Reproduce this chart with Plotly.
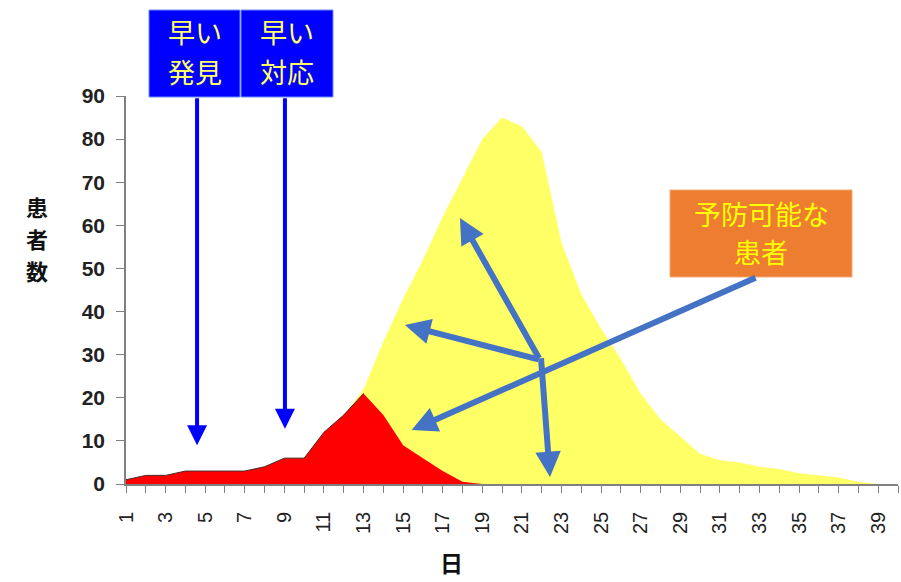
import plotly.graph_objects as go

# 日ごとの患者数
days = list(range(1, 41))
# 早い発見・早い対応をした場合
early_response = [1, 2, 2, 3, 3, 3, 3, 4, 6, 6, 12, 16, 21, 16, 9, 6, 3, 0.5,
                  0, 0, 0, 0, 0, 0, 0, 0, 0, 0, 0, 0, 0, 0, 0, 0, 0, 0, 0, 0, 0, 0]
# 対応が遅れた場合
no_response = [1, 2, 2, 3, 3, 3, 3, 4, 6, 6, 12, 16, 22, 33, 43, 52, 62, 71,
               80, 85, 83, 77, 56, 44, 36, 29, 21, 15, 11, 7, 5.5, 5, 4, 3.5,
               2.5, 2, 1.5, 0.5, 0, 0]
x_tick_labels = [str(d) if d % 2 == 1 else "" for d in days]
y_ticks = list(range(0, 100, 10))
peak_day = early_response.index(max(early_response)) + 1

W, H = 901, 582
ML, MR, MT, MB = 126, 3, 96, 98
PW, PH = W - ML - MR, H - MT - MB


def paper(px, py):
    """Pixel position in the page -> paper coordinates."""
    return (px - ML) / PW, (H - MB - py) / PH


JP = "Noto Sans CJK JP"
YELLOW_FILL = "#FFFF66"
RED_FILL = "#FF0000"
BLUE = "#0000FF"
STEEL = "#4472C4"
ORANGE = "#ED7D31"

fig = go.Figure()
fig.add_trace(go.Scatter(
    x=days, y=no_response, mode="lines", fill="tozeroy",
    fillcolor=YELLOW_FILL, line=dict(width=0, color=YELLOW_FILL),
    hoverinfo="skip", showlegend=False))
fig.add_trace(go.Scatter(
    x=days, y=early_response, mode="lines", fill="tozeroy",
    fillcolor=RED_FILL, line=dict(width=0, color=RED_FILL),
    hoverinfo="skip", showlegend=False))
# thin outline along the rising edge of the red area
fig.add_trace(go.Scatter(
    x=days[:peak_day], y=early_response[:peak_day], mode="lines",
    line=dict(width=1, color="#4a2a2a"), hoverinfo="skip", showlegend=False))

shapes = []
annotations = []


def label(text, cx, cy, size, color, weight="normal"):
    ax_, ay_ = paper(cx, cy)
    annotations.append(dict(text=text, x=ax_, y=ay_, xref="paper", yref="paper",
                            showarrow=False, xanchor="center", yanchor="middle",
                            font=dict(family=JP, size=size, color=color, weight=weight)))


# 青いラベル（早い発見・早い対応）
for (x0, x1), lines in [((149, 240), ("早い", "発見")), ((241, 333), ("早い", "対応"))]:
    px0, py0 = paper(x0, 97)
    px1, py1 = paper(x1, 10)
    shapes.append(dict(type="rect", xref="paper", yref="paper",
                       x0=px0, x1=px1, y0=py0, y1=py1,
                       fillcolor=BLUE, line=dict(color="#6f8cff", width=1)))
    cx = (x0 + x1) / 2
    for text, cy in zip(lines, (32, 71)):
        label(text, cx, cy, 27, "#FFFF66")

# オレンジのラベル（予防可能な患者）
ox0, oy0 = paper(670, 277)
ox1, oy1 = paper(852, 190)
shapes.append(dict(type="rect", xref="paper", yref="paper",
                   x0=ox0, x1=ox1, y0=oy0, y1=oy1,
                   fillcolor=ORANGE, line=dict(color="#f4a877", width=1)))
label("予防可能な", 761, 213, 27, "#FFFF00")
label("患者", 761, 251, 27, "#FFFF00")

# 矢印（データ座標）
blue_arrows = [((4.59, 89.8), (4.59, 9.0)), ((9.03, 89.8), (9.03, 12.8))]
for (tx, ty), (hx, hy) in blue_arrows:
    annotations.append(dict(text="", x=hx, y=hy, ax=tx, ay=ty,
                            xref="x", yref="y", axref="x", ayref="y",
                            showarrow=True, arrowhead=2, arrowsize=1.0,
                            arrowwidth=4, arrowcolor=BLUE, standoff=0))

steel_arrows = [
    ((21.91, 28.8), (17.87, 61.7)),
    ((21.91, 28.8), (15.09, 36.9)),
    ((32.88, 48.0), (15.43, 12.5)),
    ((21.96, 29.5), (22.42, 1.6)),
]
for (tx, ty), (hx, hy) in steel_arrows:
    annotations.append(dict(text="", x=hx, y=hy, ax=tx, ay=ty,
                            xref="x", yref="y", axref="x", ayref="y",
                            showarrow=True, arrowhead=2, arrowsize=0.85,
                            arrowwidth=6, arrowcolor=STEEL, standoff=0))

# 軸タイトル
for ch, cy in zip("患者数", (206, 238, 270)):
    label(ch, 37, cy, 22, "#111111", "bold")
label("日", 451, 562, 23, "#111111", "bold")

fig.update_layout(
    width=W, height=H,
    margin=dict(l=ML, r=MR, t=MT, b=MB, pad=0),
    paper_bgcolor="white", plot_bgcolor="white",
    shapes=shapes, annotations=annotations,
    showlegend=False,
)
fig.update_xaxes(
    range=[1, 40], tickmode="array", tickvals=days, ticktext=x_tick_labels,
    tickangle=-90, ticks="outside", ticklen=7, tickwidth=1, tickcolor="#808080",
    showline=True, linecolor="#808080", linewidth=1.5, showgrid=False, zeroline=False,
    tickfont=dict(family="Liberation Sans", size=20, color="#222222"),
    ticklabelstandoff=11,
)
fig.update_yaxes(
    range=[0, 90], tickmode="array", tickvals=y_ticks,
    ticks="outside", ticklen=8, tickwidth=1, tickcolor="#808080",
    showline=True, linecolor="#808080", linewidth=1.5, showgrid=False, zeroline=False,
    tickfont=dict(family="Liberation Sans", size=21, color="#222222", weight="bold"),
    ticklabelstandoff=7,
)

fig.write_html("out.html")
